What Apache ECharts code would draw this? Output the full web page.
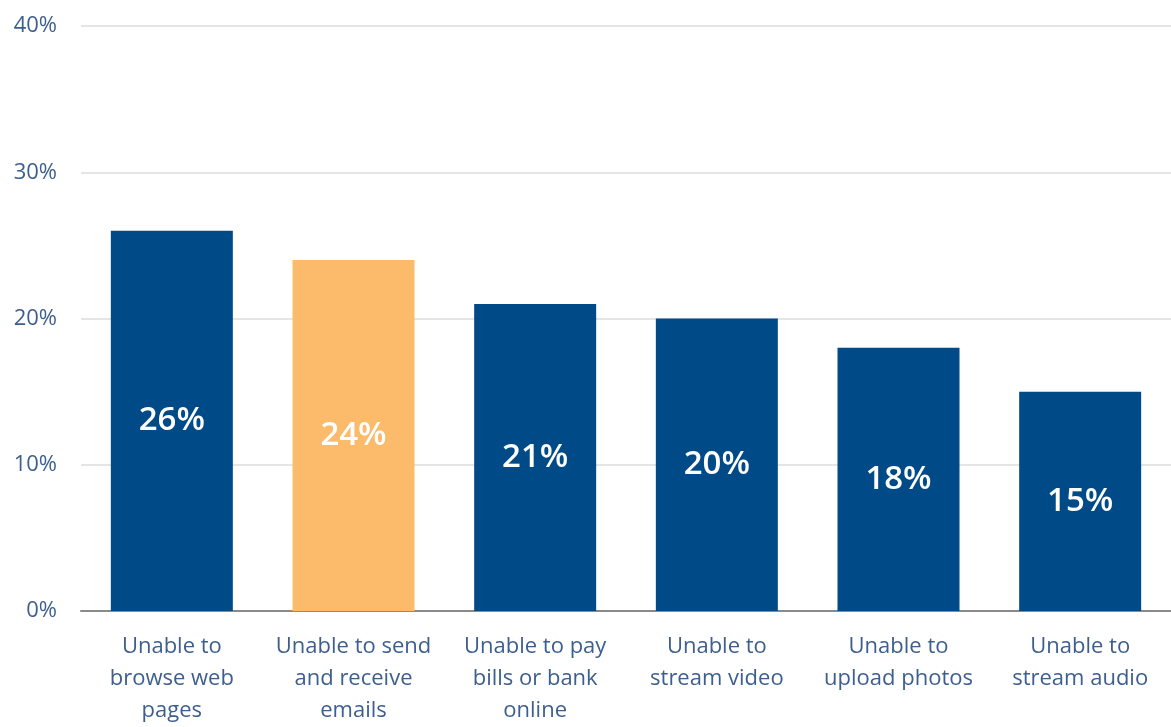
<!DOCTYPE html>
<html>
<head>
<meta charset="utf-8">
<script src="https://cdn.jsdelivr.net/npm/echarts@6/dist/echarts.min.js"></script>
<style>
html,body{margin:0;padding:0;background:#fff;overflow:hidden;}
#chart{width:1171px;height:727px;}
</style>
</head>
<body>
<div id="chart"></div>
<script>
const categories = [
  "Unable to\nbrowse web\npages",
  "Unable to send\nand receive\nemails",
  "Unable to pay\nbills or bank\nonline",
  "Unable to\nstream video",
  "Unable to\nupload photos",
  "Unable to\nstream audio"
];
const values = [26, 24, 21, 20, 18, 15];
const highlightIndex = 1;
const yTicks = { min: 0, max: 40, interval: 10 };

const navy = '#004a87';
const orange = '#fbbb6b';
const labelColor = '#3d5f8f';
const fontFamily = '"Open Sans", "Noto Sans", sans-serif';

const chart = echarts.init(document.getElementById('chart'), null, { renderer: 'canvas' });
chart.setOption({
  animation: false,
  backgroundColor: '#fff',
  grid: { left: 81, top: 26, bottom: 111.5, width: 1095, containLabel: false },
  xAxis: {
    type: 'category',
    data: categories,
    axisLine: { show: true, lineStyle: { color: '#8a8a8a', width: 2 } },
    axisTick: { show: false },
    axisLabel: {
      color: labelColor,
      fontFamily: fontFamily,
      fontSize: 22,
      lineHeight: 32,
      margin: 20,
      interval: 0
    }
  },
  yAxis: {
    type: 'value',
    min: yTicks.min,
    max: yTicks.max,
    interval: yTicks.interval,
    axisLine: { show: false },
    axisTick: { show: false },
    splitLine: { lineStyle: { color: '#dcdcdc', width: 1.5 } },
    axisLabel: {
      formatter: '{value}%',
      color: labelColor,
      fontFamily: fontFamily,
      fontSize: 22,
      margin: 24
    }
  },
  series: [{
    type: 'bar',
    barWidth: 122,
    data: values.map((v, i) => ({
      value: v,
      itemStyle: { color: i === highlightIndex ? orange : navy }
    })),
    label: {
      show: true,
      position: 'inside',
      formatter: '{c}%',
      color: '#fff',
      fontFamily: fontFamily,
      fontSize: 33,
      fontWeight: 600
    }
  }]
});
</script>
</body>
</html>
